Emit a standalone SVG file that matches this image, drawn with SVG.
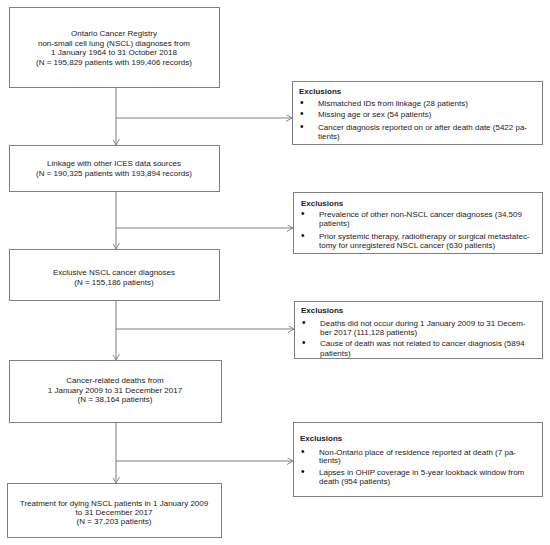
<svg xmlns="http://www.w3.org/2000/svg" width="550" height="545" viewBox="0 0 550 545">
<defs>
<style>
.box{fill:#fff;stroke:#7f7f7f;stroke-width:1}
.ln{fill:none;stroke:#7f7f7f;stroke-width:1}
text{font-family:"Liberation Sans",Arial,sans-serif;font-size:8px;fill:#222}
.c{text-anchor:middle}
.b{font-weight:bold}
.d{font-size:10px;fill:#000}
</style>
<marker id="arr" viewBox="0 0 10 10" refX="10" refY="5" markerWidth="6" markerHeight="7" orient="auto" markerUnits="userSpaceOnUse" preserveAspectRatio="none">
<path d="M0,0 L10,5 L0,10" fill="none" stroke="#7f7f7f" stroke-width="1.4"/>
</marker>
</defs>
<rect width="550" height="545" fill="#fff"/>
<g id="connectors">
<path class="ln" d="M116,87 V145" marker-end="url(#arr)"/>
<path class="ln" d="M116,118 H292" marker-end="url(#arr)"/>
<path class="ln" d="M116,192 V249" marker-end="url(#arr)"/>
<path class="ln" d="M116,228 H293" marker-end="url(#arr)"/>
<path class="ln" d="M116,301 V360" marker-end="url(#arr)"/>
<path class="ln" d="M116,329 H294" marker-end="url(#arr)"/>
<path class="ln" d="M116,423 V483" marker-end="url(#arr)"/>
<path class="ln" d="M116,461 H293" marker-end="url(#arr)"/>
</g>
<g id="n1">
<rect class="box" x="9.5" y="7.5" width="210" height="80"/>
<text class="c" x="114" y="36">Ontario Cancer Registry</text>
<text class="c" x="114" y="46">non-small cell lung (NSCL) diagnoses from</text>
<text class="c" x="114" y="55">1 January 1964 to 31 October 2018</text>
<text class="c" x="114" y="65">(N = 195,829 patients with 199,406 records)</text>
</g>
<g id="e1">
<rect class="box" x="292.5" y="81.5" width="250" height="63"/>
<text class="b" x="299" y="94">Exclusions</text>
<text class="d" x="300" y="106">•</text><text x="318" y="106">Mismatched IDs from linkage (28 patients)</text>
<text class="d" x="300" y="117">•</text><text x="318" y="117">Missing age or sex (54 patients)</text>
<text class="d" x="300" y="130">•</text><text x="318" y="130">Cancer diagnosis reported on or after death date (5422 pa-</text>
<text x="318" y="139">tients)</text>
</g>
<g id="n2">
<rect class="box" x="9.5" y="145.5" width="210" height="46"/>
<text class="c" x="114" y="166">Linkage with other ICES data sources</text>
<text class="c" x="114" y="176">(N = 190,325 patients with 193,894 records)</text>
</g>
<g id="e2">
<rect class="box" x="293.5" y="192.5" width="249" height="61"/>
<text class="b" x="301" y="206">Exclusions</text>
<text class="d" x="301" y="217">•</text><text x="319" y="217">Prevalence of other non-NSCL cancer diagnoses (34,509</text>
<text x="319" y="226">patients)</text>
<text class="d" x="301" y="239">•</text><text x="319" y="239">Prior systemic therapy, radiotherapy or surgical metastatec-</text>
<text x="319" y="248">tomy for unregistered NSCL cancer (630 patients)</text>
</g>
<g id="n3">
<rect class="box" x="9.5" y="249.5" width="210" height="51"/>
<text class="c" x="114" y="275">Exclusive NSCL cancer diagnoses</text>
<text class="c" x="114" y="285">(N = 155,186 patients)</text>
</g>
<g id="e3">
<rect class="box" x="294.5" y="301.5" width="248" height="57"/>
<text class="b" x="301" y="313">Exclusions</text>
<text class="d" x="302" y="326">•</text><text x="320" y="326">Deaths did not occur during 1 January 2009 to 31 Decem-</text>
<text x="320" y="335">ber 2017 (111,128 patients)</text>
<text class="d" x="302" y="346">•</text><text x="320" y="346">Cause of death was not related to cancer diagnosis (5894</text>
<text x="320" y="356">patients)</text>
</g>
<g id="n4">
<rect class="box" x="9.5" y="360.5" width="212" height="62"/>
<text class="c" x="115" y="383">Cancer-related deaths from</text>
<text class="c" x="115" y="393">1 January 2009 to 31 December 2017</text>
<text class="c" x="115" y="402">(N = 38,164 patients)</text>
</g>
<g id="e4">
<rect class="box" x="293.5" y="422.5" width="249" height="74"/>
<text class="b" x="300" y="441">Exclusions</text>
<text class="d" x="301" y="455">•</text><text x="319" y="455">Non-Ontario place of residence reported at death (7 pa-</text>
<text x="319" y="463">tients)</text>
<text class="d" x="301" y="475">•</text><text x="319" y="475">Lapses in OHIP coverage in 5-year lookback window from</text>
<text x="319" y="484">death (954 patients)</text>
</g>
<g id="n5">
<rect class="box" x="7.5" y="483.5" width="214" height="54"/>
<text class="c" x="114" y="506">Treatment for dying NSCL patients in 1 January 2009</text>
<text class="c" x="114" y="515">to 31 December 2017</text>
<text class="c" x="114" y="524">(N = 37,203 patients)</text>
</g>
</svg>
